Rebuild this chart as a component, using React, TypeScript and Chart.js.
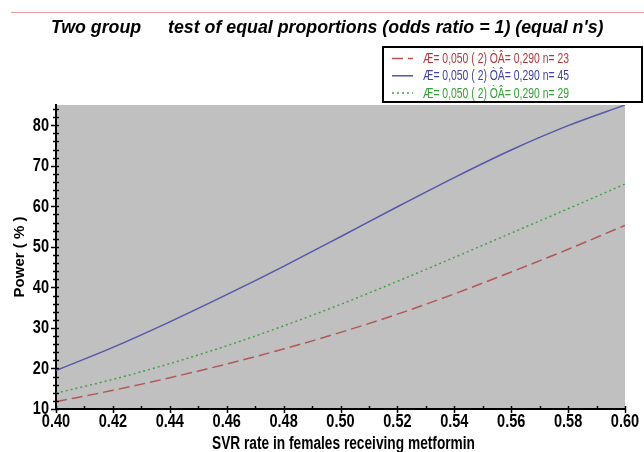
import React, { useEffect, useRef } from 'react';
import { Chart, registerables } from 'chart.js';

Chart.register(...registerables);

// ---- data ----
const svrRates = [0.40, 0.42, 0.44, 0.46, 0.48, 0.50, 0.52, 0.54, 0.56, 0.58, 0.60];
const powerN23 = [11.8, 14.6, 17.7, 21.1, 24.8, 28.9, 33.4, 38.4, 43.8, 49.4, 55.3];
const powerN45 = [19.5, 25.2, 31.5, 38.2, 45.2, 52.5, 59.9, 67.1, 73.9, 79.9, 85.0];
const powerN29 = [13.9, 17.3, 21.2, 25.6, 30.5, 35.8, 41.5, 47.4, 53.4, 59.4, 65.5];

const seriesLabels = [
  'Æ= 0,050 ( 2) ÒÂ= 0,290 n= 23',
  'Æ= 0,050 ( 2) ÒÂ= 0,290 n= 45',
  'Æ= 0,050 ( 2) ÒÂ= 0,290 n= 29',
];

const xTickValues = [0.40, 0.42, 0.44, 0.46, 0.48, 0.50, 0.52, 0.54, 0.56, 0.58, 0.60];
const yTickValues = [10, 20, 30, 40, 50, 60, 70, 80];

const titleFirst = 'Two group';
const titleSecond = "test of equal proportions (odds ratio = 1) (equal n's)";
const xAxisTitle = 'SVR rate in females receiving metformin';
const yAxisTitle = 'Power ( % )';

// ---- styles ----
const SANS = "'Liberation Sans', Arial, sans-serif";
const lineColors = ['#b45656', '#5656aa', '#45a045'];
const textColors = ['#b03a3a', '#4242a2', '#32a032'];
const dashes: number[][] = [[11, 5], [], [2, 3]];

// draws text condensed horizontally by factor k
function condensedText(ctx: any, text: string, x: number, y: number, k: number, align: string, baseline: string) {
  ctx.save();
  ctx.translate(x, y);
  ctx.scale(k, 1);
  ctx.textAlign = align;
  ctx.textBaseline = baseline;
  ctx.fillText(text, 0, 0);
  ctx.restore();
}

const bgPlugin = {
  id: 'plotBg',
  beforeDraw(chart: any) {
    const { ctx, chartArea: a } = chart;
    ctx.save();
    ctx.fillStyle = '#c0c0c0';
    ctx.fillRect(a.left, a.top, a.right - a.left, a.bottom - a.top);
    ctx.restore();
  },
};

const decorPlugin = {
  id: 'decor',
  afterDraw(chart: any) {
    const { ctx, chartArea: a, scales } = chart;
    const xs = scales.x;
    const ys = scales.y;
    ctx.save();
    // axis ticks
    ctx.strokeStyle = '#000';
    ctx.lineWidth = 1.5;
    ctx.beginPath();
    for (let v = 10; v <= 84.01; v += 2) {
      const y = Math.round(ys.getPixelForValue(v)) + 0.5;
      const major = Math.abs(v % 10) < 0.01;
      ctx.moveTo(a.left - (major ? 5 : 3), y);
      ctx.lineTo(a.left + 3, y);
    }
    for (let i = 0; i <= 20; i++) {
      const v = 0.4 + i * 0.01;
      const x = Math.round(xs.getPixelForValue(v)) + 0.5;
      const major = i % 2 === 0;
      ctx.moveTo(x, a.bottom - 3);
      ctx.lineTo(x, a.bottom + (major ? 4 : 0));
    }
    ctx.stroke();

    // tick labels (bold, condensed)
    ctx.fillStyle = '#000';
    ctx.font = `bold 17.5px ${SANS}`;
    const kTick = 28.3 / ctx.measureText('0.40').width;
    yTickValues.forEach((v) => {
      condensedText(ctx, String(v), a.left - 7, ys.getPixelForValue(v) + 0.5, kTick, 'right', 'middle');
    });
    xTickValues.forEach((v) => {
      condensedText(ctx, v.toFixed(2), xs.getPixelForValue(v), 422, kTick, 'center', 'middle');
    });

    // x axis title
    ctx.font = `bold 17.5px ${SANS}`;
    const kTitle = 263 / ctx.measureText(xAxisTitle).width;
    condensedText(ctx, xAxisTitle, (a.left + a.right) / 2 + 3, 444.5, kTitle, 'center', 'middle');

    // top red rule
    ctx.strokeStyle = '#e09a9a';
    ctx.lineWidth = 1;
    ctx.beginPath();
    ctx.moveTo(11, 12.5);
    ctx.lineTo(644, 12.5);
    ctx.stroke();

    // title
    ctx.fillStyle = '#000';
    ctx.font = `italic bold 17.8px ${SANS}`;
    ctx.textBaseline = 'alphabetic';
    ctx.textAlign = 'left';
    ctx.fillText(titleFirst, 51, 33);
    ctx.fillText(titleSecond, 168, 33);

    // legend box
    ctx.fillStyle = '#fff';
    ctx.fillRect(383, 47, 259, 55);
    ctx.strokeStyle = '#000';
    ctx.lineWidth = 2;
    ctx.strokeRect(383, 47, 259, 55);
    ctx.font = `14px ${SANS}`;
    const kLeg = 146 / ctx.measureText(seriesLabels[0]).width;
    chart.data.datasets.forEach((ds: any, i: number) => {
      const base = 63 + i * 17.3;
      ctx.strokeStyle = lineColors[i];
      ctx.lineWidth = 1.5;
      ctx.setLineDash(dashes[i]);
      ctx.beginPath();
      ctx.moveTo(392, base - 4.5);
      ctx.lineTo(413, base - 4.5);
      ctx.stroke();
      ctx.setLineDash([]);
      ctx.fillStyle = textColors[i];
      condensedText(ctx, ds.label, 423, base, kLeg, 'left', 'alphabetic');
    });
    ctx.restore();
  },
};

export default function App() {
  const ref = useRef<HTMLCanvasElement>(null);
  useEffect(() => {
    const series = [powerN23, powerN45, powerN29];
    const chart = new Chart(ref.current as HTMLCanvasElement, {
      type: 'line',
      data: {
        datasets: series.map((vals, i) => ({
          label: seriesLabels[i],
          data: svrRates.map((x, j) => ({ x, y: vals[j] })),
          borderColor: lineColors[i],
          borderWidth: 1.5,
          borderDash: dashes[i],
          pointRadius: 0,
          fill: false,
          tension: 0.4,
          cubicInterpolationMode: 'monotone',
        })),
      },
      options: {
        responsive: false,
        animation: false,
        layout: { padding: { top: 105, right: 19, left: 0, bottom: 0 } },
        plugins: {
          legend: { display: false },
          title: { display: false },
          tooltip: { enabled: false },
        },
        scales: {
          x: {
            type: 'linear',
            min: 0.4,
            max: 0.6,
            afterBuildTicks: (s: any) => {
              s.ticks = xTickValues.map((v) => ({ value: v }));
            },
            afterFit: (s: any) => {
              s.height = 43;
            },
            grid: { display: false, drawTicks: false },
            border: { display: true, color: '#000', width: 2 },
            ticks: { display: false },
            title: { display: false, text: xAxisTitle },
          },
          y: {
            type: 'linear',
            min: 10,
            max: 85,
            afterBuildTicks: (s: any) => {
              s.ticks = yTickValues.map((v) => ({ value: v }));
            },
            afterFit: (s: any) => {
              s.width = 56;
            },
            grid: { display: false, drawTicks: false },
            border: { display: true, color: '#000', width: 2 },
            ticks: { display: false },
            title: {
              display: true,
              text: yAxisTitle,
              color: '#000',
              font: { family: SANS, size: 15, weight: 'bold' },
              padding: { top: 11, bottom: 0 },
            },
          },
        },
      },
      plugins: [bgPlugin, decorPlugin],
    } as any);
    return () => chart.destroy();
  }, []);
  return (
    <div style={{ position: 'absolute', left: 0, top: 0, width: 644, height: 452, background: '#fff' }}>
      <canvas ref={ref} width={644} height={452} style={{ display: 'block' }} />
    </div>
  );
}
